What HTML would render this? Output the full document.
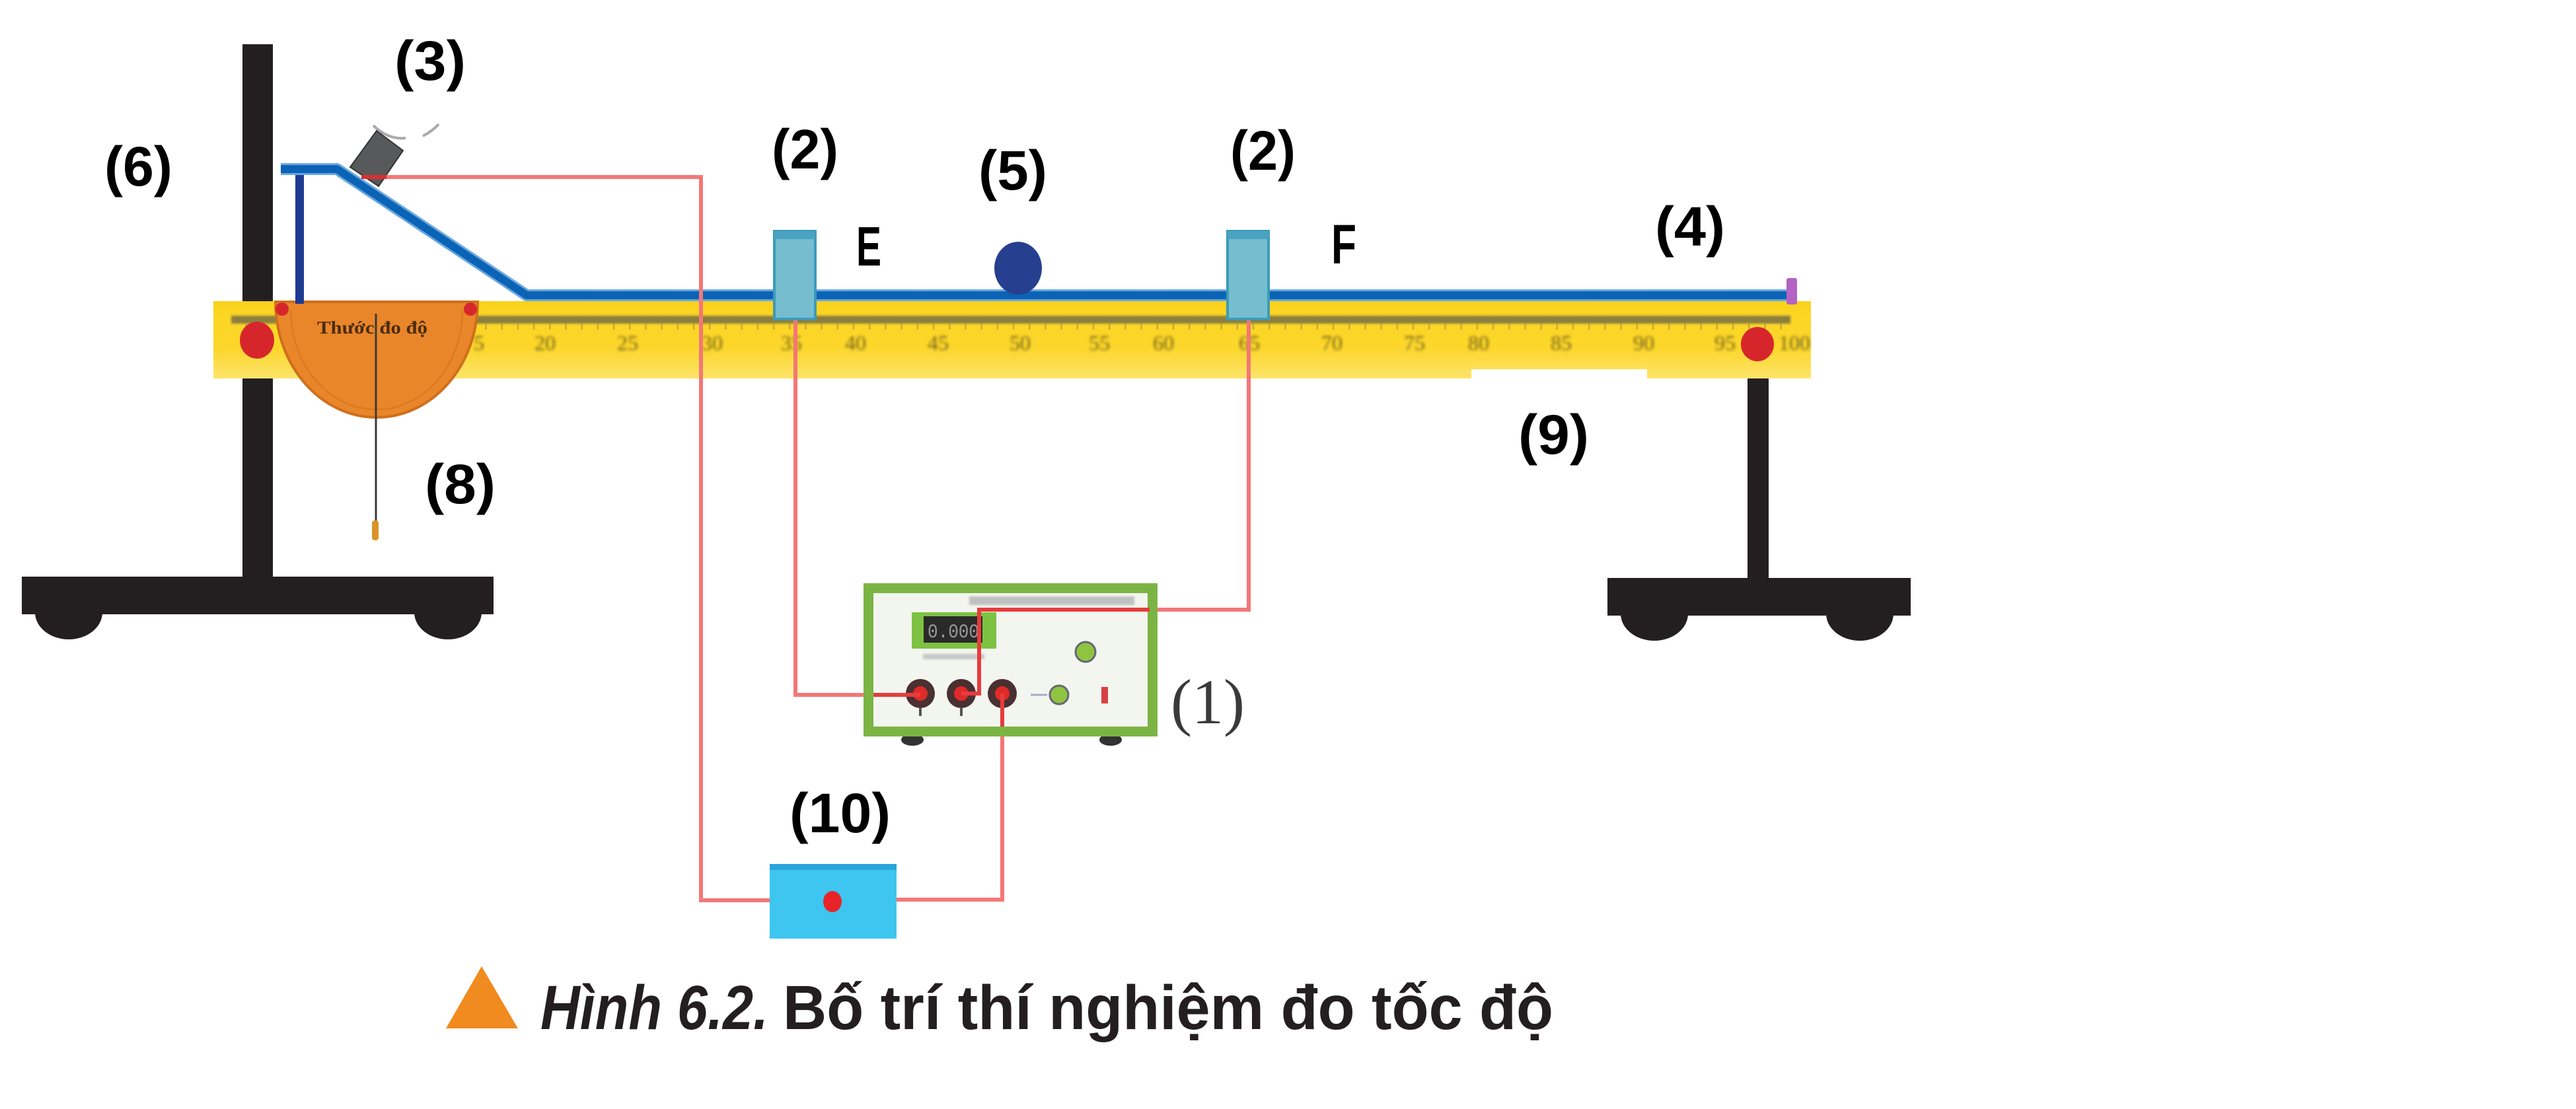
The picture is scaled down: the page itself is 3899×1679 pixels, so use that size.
<!DOCTYPE html>
<html>
<head>
<meta charset="utf-8">
<style>
html,body{margin:0;padding:0;background:#fff;}
svg{display:block;}
.lbl{font-family:"Liberation Sans",sans-serif;font-weight:bold;font-size:84px;fill:#000;}
</style>
</head>
<body>
<svg width="3899" height="1679" viewBox="0 0 3899 1679" xmlns="http://www.w3.org/2000/svg">
<defs>
  <linearGradient id="ruler" x1="0" y1="0" x2="0" y2="1">
    <stop offset="0" stop-color="#f8d11a"/>
    <stop offset="0.2" stop-color="#fcd624"/>
    <stop offset="0.6" stop-color="#fcd62a"/>
    <stop offset="1" stop-color="#fde46a"/>
  </linearGradient>
  <pattern id="ticks" x="347" y="0" width="24.2" height="600" patternUnits="userSpaceOnUse">
    <rect x="0" y="490" width="2.5" height="9" fill="#b09a3a" opacity="0.7"/>
  </pattern>
  <filter id="blur1" x="-5%" y="-50%" width="110%" height="200%"><feGaussianBlur stdDeviation="1.6"/></filter>
  <filter id="blur2" x="-5%" y="-50%" width="110%" height="200%"><feGaussianBlur stdDeviation="2.2"/></filter>
</defs>

<rect width="3899" height="1679" fill="#fff"/>

<!-- Left stand -->
<rect x="367" y="67" width="46" height="830" fill="#231f20"/>
<ellipse cx="104" cy="927" rx="51" ry="41" fill="#231f20"/>
<ellipse cx="678" cy="927" rx="51" ry="41" fill="#231f20"/>
<rect x="33" y="873" width="714" height="57" fill="#231f20"/>

<!-- Right stand -->
<rect x="2645" y="540" width="32" height="345" fill="#231f20"/>
<ellipse cx="2504" cy="929" rx="51" ry="41" fill="#231f20"/>
<ellipse cx="2815" cy="929" rx="51" ry="41" fill="#231f20"/>
<rect x="2433" y="875" width="459" height="57" fill="#231f20"/>

<!-- Ruler -->
<rect x="323" y="456" width="2418" height="117" fill="url(#ruler)"/>
<rect x="350" y="478" width="2360" height="12" fill="#8c7f3e" filter="url(#blur1)"/>
<rect x="350" y="488" width="2360" height="14" fill="url(#ticks)"/>
<rect x="2227" y="559" width="266" height="16" fill="#fff"/>
<g font-family="Liberation Serif, serif" font-size="32" fill="#55491f" text-anchor="middle" opacity="0.8" filter="url(#blur2)">
  <text x="725" y="530">5</text>
  <text x="825" y="530">20</text>
  <text x="950" y="530">25</text>
  <text x="1078" y="530">30</text>
  <text x="1198" y="530">35</text>
  <text x="1295" y="530">40</text>
  <text x="1420" y="530">45</text>
  <text x="1544" y="530">50</text>
  <text x="1664" y="530">55</text>
  <text x="1761" y="530">60</text>
  <text x="1891" y="530">65</text>
  <text x="2016" y="530">70</text>
  <text x="2141" y="530">75</text>
  <text x="2238" y="530">80</text>
  <text x="2363" y="530">85</text>
  <text x="2488" y="530">90</text>
  <text x="2611" y="530">95</text>
  <text x="2716" y="530">100</text>
</g>
<ellipse cx="389" cy="515" rx="26" ry="28" fill="#d7262b"/>
<ellipse cx="2660" cy="521" rx="25" ry="26" fill="#d7262b"/>

<!-- Protractor -->
<path d="M417,457 L723,457 A153,175 0 0 1 417,457 Z" fill="#e9862a" stroke="#cf6f1c" stroke-width="4"/>
<path d="M440,470 A130,150 0 0 0 700,470" fill="none" stroke="#d37420" stroke-width="3" opacity="0.6"/>
<text x="480" y="505" font-family="Liberation Serif, serif" font-weight="bold" font-size="27" fill="#4a2c10" textLength="167" lengthAdjust="spacingAndGlyphs">Thước đo độ</text>
<circle cx="427" cy="468" r="10" fill="#d7262b"/>
<circle cx="712" cy="468" r="10" fill="#d7262b"/>
<line x1="569" y1="475" x2="569" y2="795" stroke="#3a3a3a" stroke-width="3"/>
<rect x="563" y="788" width="10" height="30" rx="4" fill="#d9932a"/>

<!-- Track support -->
<rect x="447" y="258" width="13" height="202" fill="#1f3a93"/>
<!-- Track -->
<polyline points="425,256 510,256 797,447 2706,447" fill="none" stroke="#6aa8de" stroke-width="18" stroke-linejoin="round"/>
<polyline points="425,256 510,256 797,447 2706,447" fill="none" stroke="#0b63b6" stroke-width="12" stroke-linejoin="round"/>
<rect x="2704" y="421" width="16" height="40" rx="3" fill="#b463c4"/>

<!-- Sensor (3) -->
<path d="M565,190 Q588,212 614,209" fill="none" stroke="#aaa" stroke-width="4"/>
<path d="M640,206 Q655,198 664,188" fill="none" stroke="#aaa" stroke-width="4"/>
<polygon points="570,198 610,228 573,282 530,253" fill="#58595b" stroke="#333" stroke-width="2"/>

<!-- Wires -->
<g fill="none" stroke="#f37777" stroke-width="6" stroke-linejoin="miter">
  <polyline points="547,268 1061,268 1061,1363 1165,1363"/>
  <polyline points="1204,483 1204,1052 1393,1052"/>
  <polyline points="1890,483 1890,923 1482,923 1482,1050 1455,1050"/>
  <polyline points="1517,1050 1517,1362 1357,1362"/>
</g>
<line x1="547" y1="268" x2="585" y2="268" stroke="#d83030" stroke-width="6"/>

<!-- Gates -->
<rect x="1172" y="350" width="62" height="133" fill="#76bdd0" stroke="#3c9bb8" stroke-width="4"/>
<rect x="1172" y="350" width="62" height="12" fill="#4aa3c0"/>
<rect x="1858" y="350" width="62" height="133" fill="#76bdd0" stroke="#3c9bb8" stroke-width="4"/>
<rect x="1858" y="350" width="62" height="12" fill="#4aa3c0"/>

<!-- Ball -->
<ellipse cx="1541" cy="406" rx="36" ry="40" fill="#263f8f"/>

<!-- Timer (1) -->
<ellipse cx="1381" cy="1120" rx="17" ry="9" fill="#333"/>
<ellipse cx="1681" cy="1120" rx="17" ry="9" fill="#333"/>
<rect x="1307" y="883" width="445" height="232" fill="#7cb444"/>
<rect x="1322" y="898" width="415" height="202" fill="#f3f6ef"/>
<rect x="1467" y="903" width="250" height="13" fill="#c0c0c0" filter="url(#blur1)"/>
<rect x="1380" y="927" width="128" height="55" fill="#7dc242"/>
<rect x="1398" y="933" width="89" height="40" fill="#2a2a2a"/>
<text x="1404" y="965" font-family="Liberation Mono, monospace" font-size="30" fill="#9a9a9a" textLength="78" lengthAdjust="spacingAndGlyphs">0.000</text>
<rect x="1397" y="990" width="93" height="8" fill="#c8c8c8" filter="url(#blur1)"/>
<circle cx="1643" cy="987" r="15" fill="#8fc440" stroke="#667" stroke-width="3"/>
<circle cx="1603" cy="1052" r="14" fill="#8fc440" stroke="#667" stroke-width="3"/>
<rect x="1667" y="1040" width="10" height="25" fill="#d84040"/>
<line x1="1560" y1="1052" x2="1585" y2="1052" stroke="#aac" stroke-width="3"/>
<g>
  <circle cx="1393" cy="1050" r="22" fill="#4a3030"/>
  <circle cx="1455" cy="1050" r="22" fill="#4a3030"/>
  <circle cx="1517" cy="1050" r="22" fill="#4a3030"/>
  <circle cx="1393" cy="1050" r="11" fill="#e02a2a"/>
  <circle cx="1455" cy="1050" r="11" fill="#e02a2a"/>
  <circle cx="1517" cy="1050" r="11" fill="#e02a2a"/>
  <rect x="1391" y="1072" width="4" height="12" fill="#555"/>
  <rect x="1453" y="1072" width="4" height="12" fill="#555"/>
  <rect x="1515" y="1072" width="4" height="12" fill="#555"/>
</g>
<g fill="none" stroke="#e63c3c" stroke-width="6">
  <polyline points="1740,923 1482,923 1482,1050 1455,1050"/>
  <line x1="1322" y1="1052" x2="1393" y2="1052"/>
  <line x1="1517" y1="1050" x2="1517" y2="1100"/>
</g>

<!-- Box (10) -->
<rect x="1165" y="1308" width="192" height="113" fill="#3ec5f0"/>
<rect x="1165" y="1308" width="192" height="9" fill="#2aa5dc"/>
<ellipse cx="1260" cy="1365" rx="14" ry="16" fill="#e8242a"/>

<!-- Labels -->
<text class="lbl" x="597" y="121" textLength="108" lengthAdjust="spacingAndGlyphs">(3)</text>
<text class="lbl" x="158" y="281" textLength="103" lengthAdjust="spacingAndGlyphs">(6)</text>
<text class="lbl" x="1168" y="255" textLength="101" lengthAdjust="spacingAndGlyphs">(2)</text>
<text class="lbl" x="1481" y="287" textLength="104" lengthAdjust="spacingAndGlyphs">(5)</text>
<text class="lbl" x="1862" y="257" textLength="99" lengthAdjust="spacingAndGlyphs">(2)</text>
<text class="lbl" x="2505" y="372" textLength="106" lengthAdjust="spacingAndGlyphs">(4)</text>
<text class="lbl" x="2298" y="687" textLength="107" lengthAdjust="spacingAndGlyphs">(9)</text>
<text class="lbl" x="643" y="762" textLength="107" lengthAdjust="spacingAndGlyphs">(8)</text>
<text class="lbl" x="1195" y="1260" textLength="153" lengthAdjust="spacingAndGlyphs">(10)</text>
<text class="lbl" x="1296" y="402" textLength="38" lengthAdjust="spacingAndGlyphs">E</text>
<text class="lbl" x="2015" y="399" textLength="38" lengthAdjust="spacingAndGlyphs">F</text>
<text x="1772" y="1095" font-family="Liberation Serif, serif" font-size="96" fill="#3a3a3a" textLength="112" lengthAdjust="spacingAndGlyphs">(1)</text>

<!-- Caption -->
<polygon points="675,1557 729,1463 784,1557" fill="#f18a1f"/>
<text x="818" y="1558" font-family="Liberation Sans, sans-serif" font-weight="bold" font-style="italic" font-size="95" fill="#231f20" textLength="345" lengthAdjust="spacingAndGlyphs">Hình 6.2.</text>
<text x="1185" y="1558" font-family="Liberation Sans, sans-serif" font-weight="bold" font-size="95" fill="#231f20" textLength="1166" lengthAdjust="spacingAndGlyphs">Bố trí thí nghiệm đo tốc độ</text>
</svg>
</body>
</html>
